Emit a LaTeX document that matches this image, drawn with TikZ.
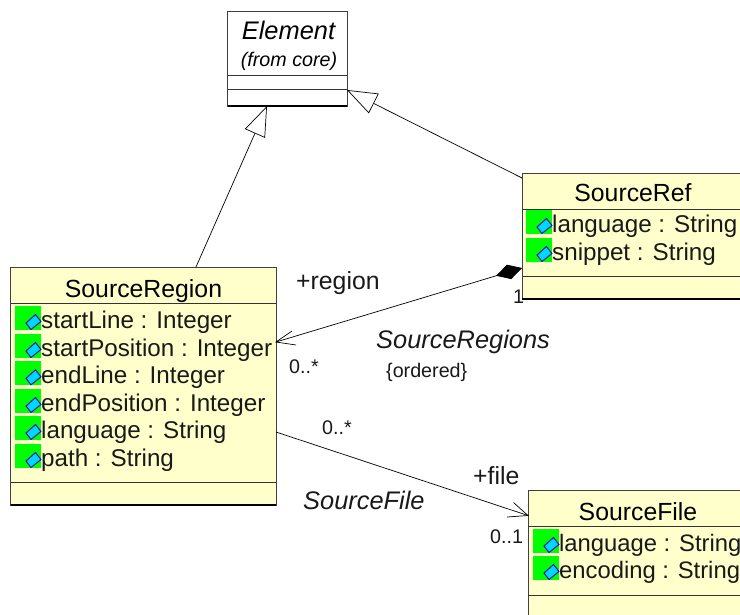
\documentclass[tikz,border=0pt]{standalone}
\usepackage{fontspec}
\usetikzlibrary{arrows.meta}
\newfontfamily\umlf{Liberation Sans}
\newcommand\bigf{\umlf\fontsize{24.2}{26}\selectfont}
\newcommand\clipf{\umlf\fontsize{23.8}{26}\selectfont}
\newcommand\labf{\umlf\fontsize{24.8}{26}\selectfont}
\newcommand\itf{\umlf\itshape\fontsize{25.4}{27}\selectfont}
\newcommand\smallf{\umlf\fontsize{19.7}{21}\selectfont}
\definecolor{umlyellow}{RGB}{255,255,204}
\definecolor{umlgreen}{RGB}{0,255,0}
\definecolor{umlcyan}{RGB}{0,215,255}
\definecolor{umlblue}{RGB}{20,20,170}
\tikzset{
  umlbox/.style={draw=black!75,line width=0.8pt,fill=umlyellow,anchor=north west,inner sep=0pt,outer sep=0pt},
  sep/.style={draw=black!80,line width=0.8pt},
  heavy/.style={draw=black,line width=1.6pt},
  attr/.style={anchor=base west,inner sep=0pt,font=\bigf,text=black!90},
  lab/.style={anchor=base west,inner sep=0pt,font=\labf,text=black!90},
  lit/.style={anchor=base west,inner sep=0pt,font=\smallf,text=black!90},
  gen/.style={line width=0.7pt,-{Triangle[open,fill=white,length=30pt,width=22pt]}},
  wire/.style={line width=0.7pt},
  comp/.style={line width=0.7pt,{Diamond[fill=black,length=27pt,width=15pt]}-},
}
% name, x of green box, y of green box, text
\newcommand\attrrow[4]{%
  \fill[umlgreen] (#2,#3) rectangle ++(26,24);
  \filldraw[fill=umlcyan,draw=umlblue,line width=1pt]
    (#2+11,#3+17) -- (#2+20.5,#3+8.5) -- (#2+26,#3+15.5) -- (#2+16,#3+23.5) -- cycle;
  \node[attr] (#1) at (#2+26,#3+22.3) {#4};
}
\begin{document}
\begin{tikzpicture}[x=1pt,y=-1pt]
\useasboundingbox (0,0) rectangle (740,614);
\fill[white] (0,0) rectangle (740,614);
\begin{scope}
\clip (0,0) rectangle (740,614);
% Element
\node[umlbox,fill=white,minimum width=119.5pt,minimum height=95pt] (el) at (227.5,11) {};
\node[anchor=base,inner sep=0pt,font=\itf] (eltitle) at (288.5,39) {Element};
\node[anchor=base,inner sep=0pt,font=\smallf\itshape] (elfrom) at (289,66) {(from core)};
\draw[sep] (227.5,75) -- (347,75);
\draw[sep] (227.5,89) -- (347,89);
\draw[heavy] (el.south west) -- (el.south east);
% SourceRegion
\node[umlbox,minimum width=265.5pt,minimum height=238pt] (sr) at (10.5,267) {};
\node[anchor=base,inner sep=0pt,font=\labf] (srtitle) at (143.5,297) {SourceRegion};
\draw[sep] (10.5,303) -- (276,303);
\draw[sep] (10.5,482) -- (276,482);
\draw[heavy] (sr.south west) -- (sr.south east);
\attrrow{a1}{15}{306}{startLine : Integer}
\attrrow{a2}{15}{334}{startPosition : Integer}
\attrrow{a3}{15}{361.3}{endLine : Integer}
\attrrow{a4}{15}{389}{endPosition : Integer}
\attrrow{a5}{15}{416}{language : String}
\attrrow{a6}{15}{444}{path : String}
% SourceRef
\node[umlbox,minimum width=230pt,minimum height=126pt] (rf) at (522,173) {};
\node[anchor=base,inner sep=0pt,font=\labf] (rftitle) at (633,201) {SourceRef};
\draw[sep] (522,209) -- (745,209);
\draw[sep] (522,276) -- (745,276);
\draw[heavy] (rf.south west) -- (rf.south east);
\attrrow{b1}{526}{210}{language : String}
\attrrow{b2}{526}{238}{snippet : String}
% SourceFile
\node[umlbox,minimum width=230pt,minimum height=130pt] (sf) at (528,490) {};
\node[anchor=base,inner sep=0pt,font=\labf] (sftitle) at (638,520) {SourceFile};
\draw[sep] (528,526) -- (745,526);
\draw[sep] (528,595) -- (745,595);
\begin{scope}[attr/.append style={font=\clipf}]
\attrrow{c1}{533}{529}{language : String}
\attrrow{c2}{533}{556}{encoding : String}
\end{scope}
\end{scope}
% connectors
\draw[gen] ([xshift=185.5pt]sr.north west) -- ([xshift=39.5pt]el.south west);
\draw[gen] ([yshift=-5pt]rf.north west) -- ([yshift=-79pt]el.north east);
\draw[comp] ([yshift=-95pt]rf.north west) -- ([yshift=-75pt]sr.north east);
\draw[wire] ([yshift=-75pt]sr.north east) ++(16,-11) -- ++(-16,11) -- ++(20,3);
\draw[wire] ([yshift=-165pt]sr.north east) -- ([yshift=-25.5pt]sf.north west);
\draw[wire] ([yshift=-25.5pt]sf.north west) ++(-14.5,-13) -- ++(14.5,13) -- ++(-21,1.5);
% labels
\node[lab] (l1) at (296,289) {+region};
\node[lit] (l2) at (289,373) {0..*};
\node[lab,font=\itf] (l3) at (376,348) {SourceRegions};
\node[lit] (l4) at (386,377) {\{ordered\}};
\node[lit] (l5) at (513,303) {1};
\node[lit] (l6) at (322,434) {0..*};
\node[lab] (l7) at (473,484) {+file};
\node[lab,font=\itf] (l8) at (303,509) {SourceFile};
\node[lit] (l9) at (490,543) {0..1};
\end{tikzpicture}
\end{document}
